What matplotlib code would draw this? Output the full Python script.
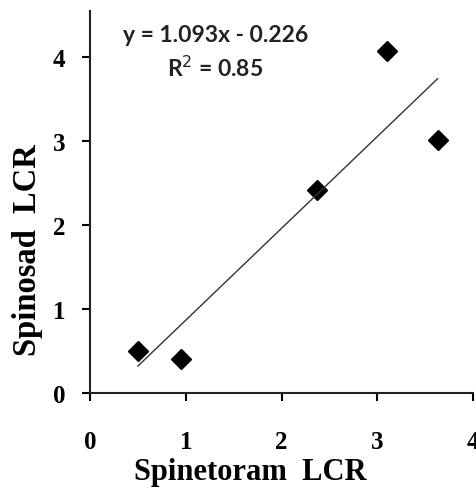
import matplotlib.pyplot as plt
import numpy as np

x = [0.5, 0.95, 2.37, 3.1, 3.63]
y = [0.5, 0.4, 2.42, 4.07, 3.01]

slope = 1.093
icept = -0.226
r2 = 0.85

fig = plt.figure(figsize=(4.77, 4.89), dpi=100)
ax = fig.add_axes([0.1887, 0.1943, 0.8029, 0.7815])

ax.plot(x, y, linestyle='none', marker='D', markersize=10.5, color='black')
X = np.array([min(x), max(x)])
ax.plot(X, slope*X + icept, color='#333333', linewidth=1)

ax.set_xlim(0, 4)
ax.set_ylim(0, 4.55)
ax.set_xticks([0, 1, 2, 3, 4])
ax.set_yticks([0, 1, 2, 3, 4])
for s in ['top', 'right']:
    ax.spines[s].set_visible(False)
for s in ['left', 'bottom']:
    ax.spines[s].set_linewidth(1.5)
    ax.spines[s].set_color('#222222')

ax.tick_params(axis='x', direction='out', length=6, width=1.5, pad=21, labelsize=18)
ax.tick_params(axis='y', direction='out', length=6, width=1.5, pad=12, labelsize=18)
for lab in ax.get_xticklabels() + ax.get_yticklabels():
    lab.set_fontfamily('Liberation Serif')
    lab.set_fontweight('bold')

ax.set_xlabel('Spinetoram  LCR', fontfamily='Liberation Serif', fontweight='bold', fontsize=22)
ax.set_ylabel('Spinosad  LCR', fontfamily='Liberation Serif', fontweight='bold', fontsize=23.5)
ax.xaxis.set_label_coords(0.418, -0.168)
ax.yaxis.set_label_coords(-0.123, 0.377)

ax.text(1.31, 4.27, 'y = %.3fx - %.3f' % (slope, -icept), ha='center', va='center',
        fontfamily='Lato', fontweight='bold', fontsize=16.5, color='#222222')
ax.text(1.31, 3.88, 'R$^2$ = %.2f' % r2, ha='center', va='center',
        fontfamily='Lato', fontweight='bold', fontsize=16.5, color='#222222')

plt.savefig('out.png', dpi=100)
